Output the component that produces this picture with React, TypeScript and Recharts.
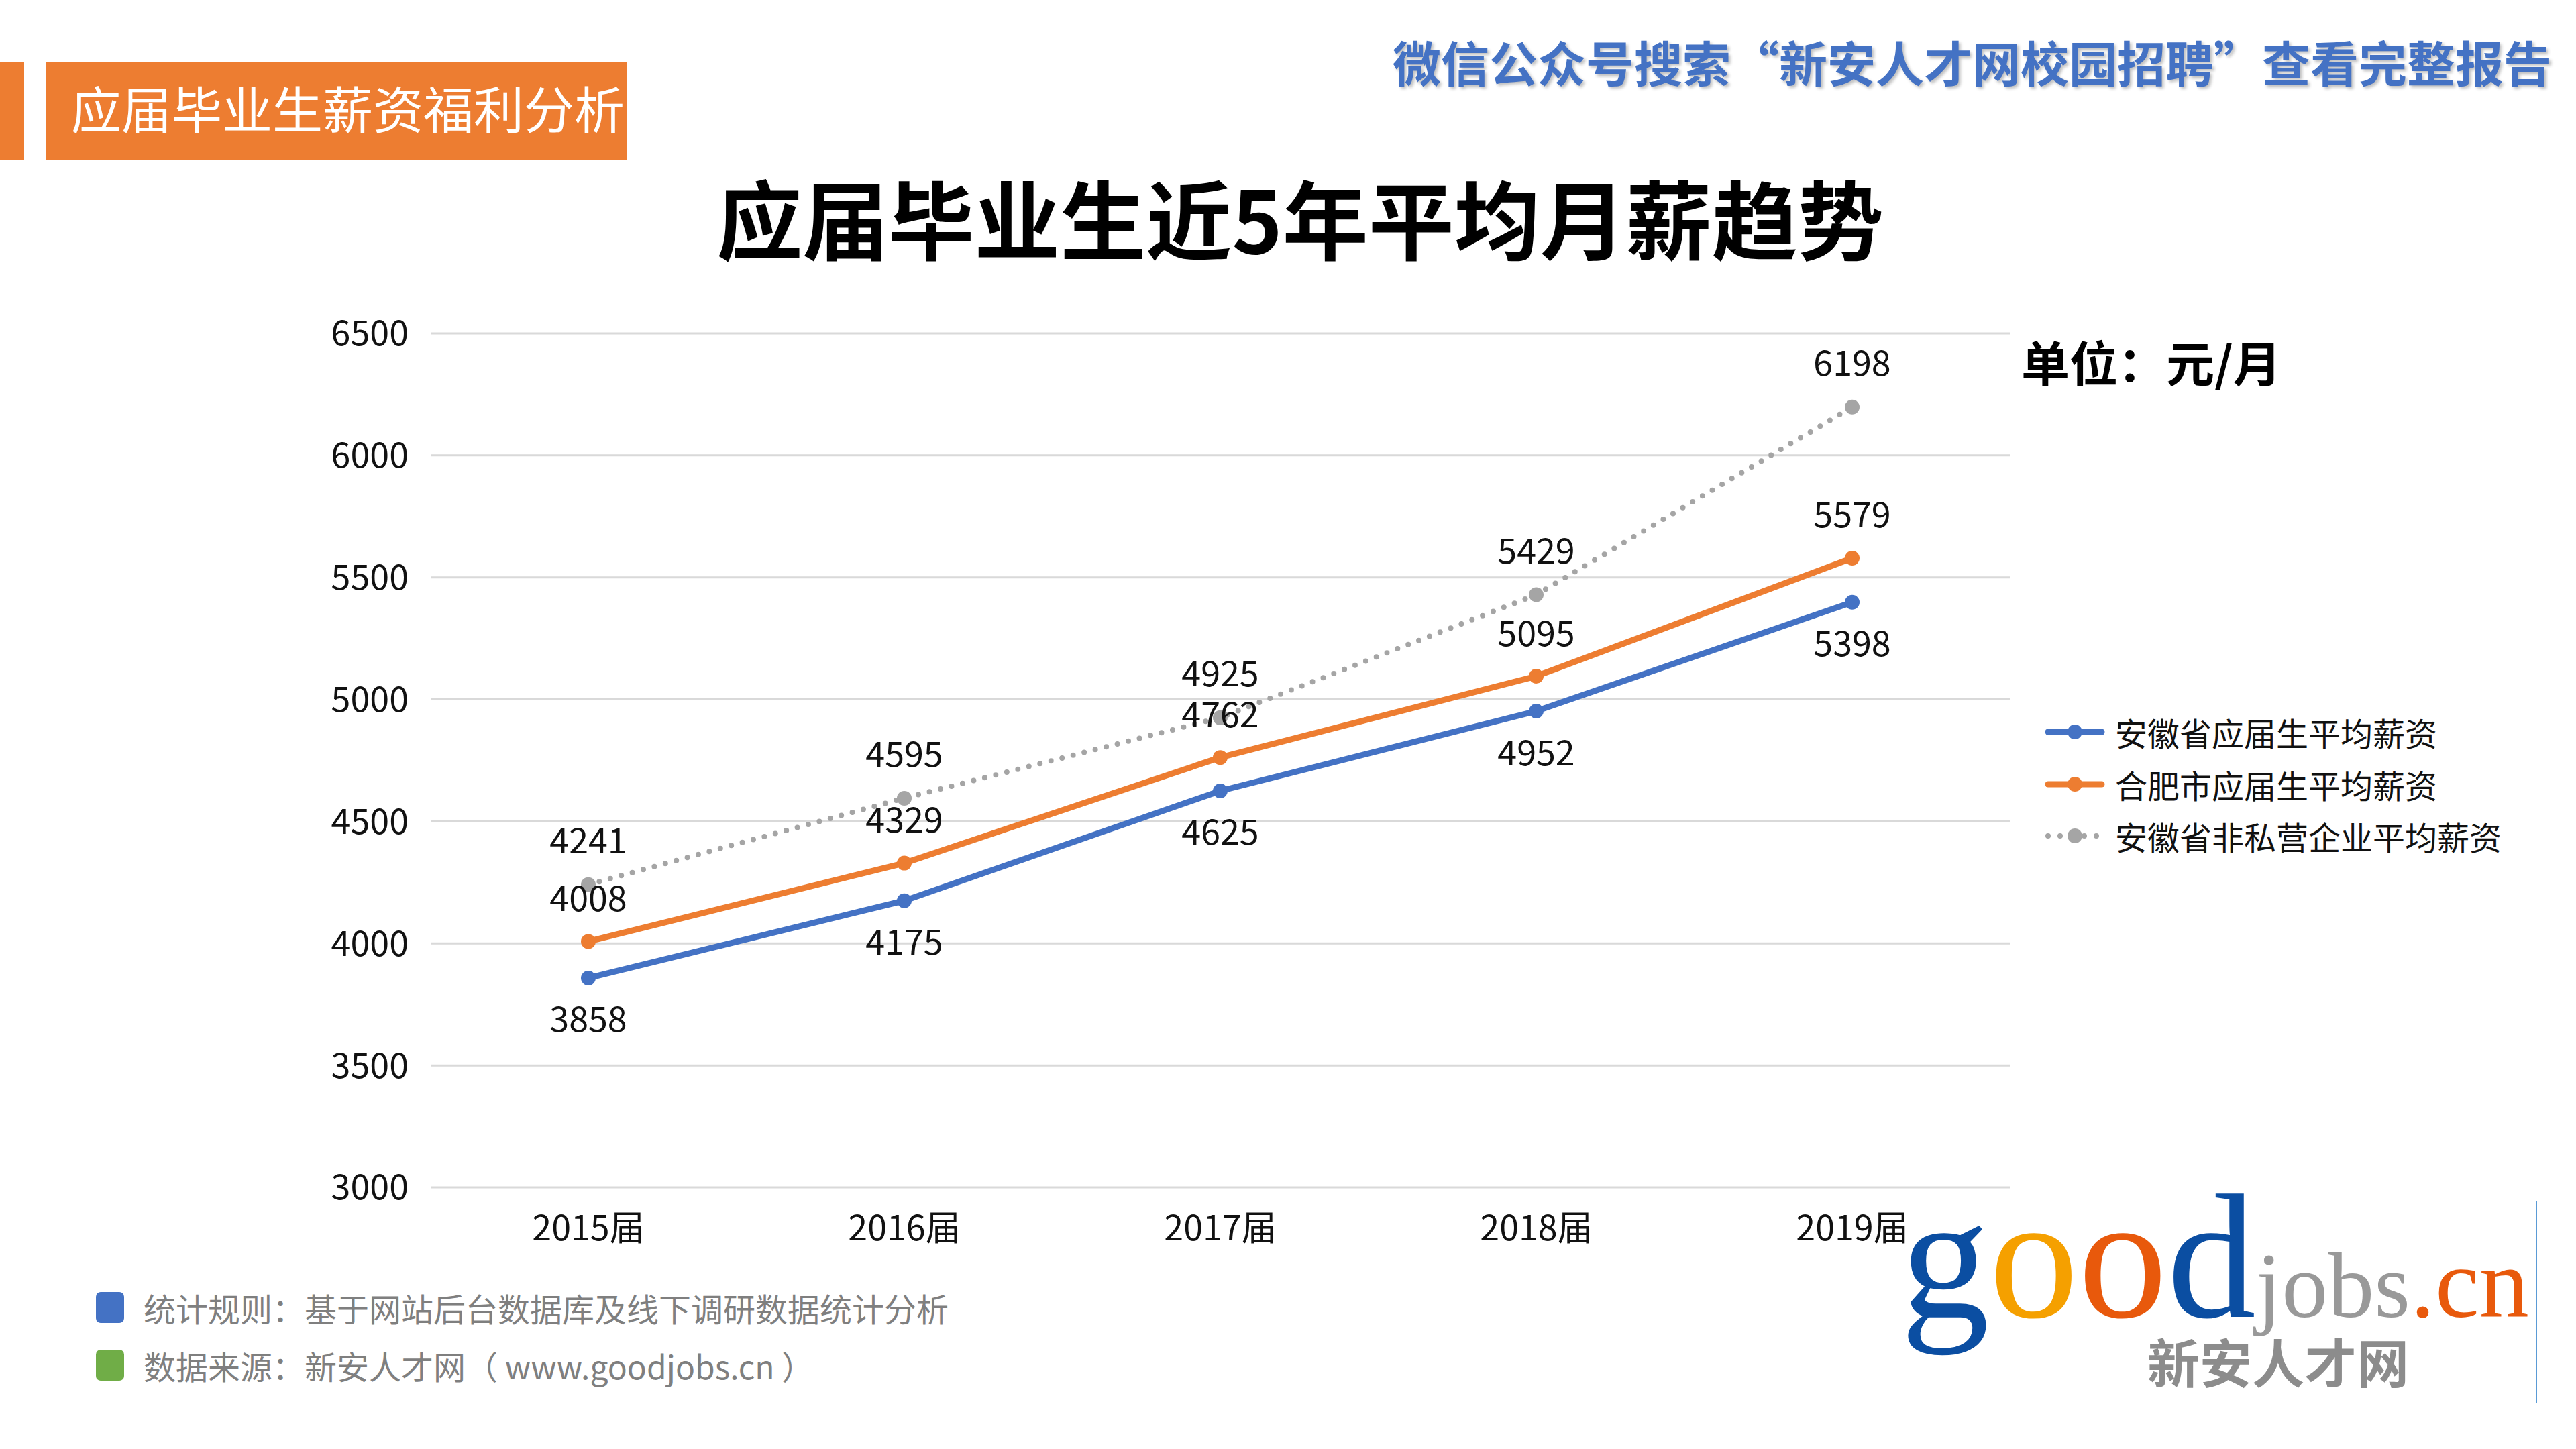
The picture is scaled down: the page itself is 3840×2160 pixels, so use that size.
import { LineChart, Line, XAxis, YAxis, CartesianGrid, LabelList } from "recharts";

const categories = ["2015届", "2016届", "2017届", "2018届", "2019届"];
const anhuiGrad = [3858, 4175, 4625, 4952, 5398];
const hefeiGrad = [4008, 4329, 4762, 5095, 5579];
const anhuiNonPrivate = [4241, 4595, 4925, 5429, 6198];
const yTicks = [3000, 3500, 4000, 4500, 5000, 5500, 6000, 6500];

const seriesNames = ["安徽省应届生平均薪资", "合肥市应届生平均薪资", "安徽省非私营企业平均薪资"];
const footNotes = [
  "统计规则：基于网站后台数据库及线下调研数据统计分析",
  "数据来源：新安人才网（ www.goodjobs.cn ）",
];

const BLUE = "#4472C4";
const ORANGE = "#ED7D31";
const GRAY = "#A5A5A5";

const data = categories.map((name, i) => ({
  name,
  anhui: anhuiGrad[i],
  hefei: hefeiGrad[i],
  nonPrivate: anhuiNonPrivate[i],
}));

const FONT = '"Noto Sans CJK SC", "Noto Sans", sans-serif';

const makeLabel = (dy: number) => (props: any) => {
  const x = props.x ?? props.viewBox?.x;
  const y = props.y ?? props.viewBox?.y;
  return (
    <text
      x={x}
      y={y + dy}
      textAnchor="middle"
      dominantBaseline="central"
      fontSize={52}
      fill="#111"
      fontFamily={FONT}
    >
      {props.value}
    </text>
  );
};

function LegendIcon({ color, dotted }: { color: string; dotted?: boolean }) {
  return (
    <svg width={90} height={30} style={{ display: "block" }}>
      <line
        x1={5}
        y1={15}
        x2={85}
        y2={15}
        stroke={color}
        strokeWidth={dotted ? 8 : 9}
        strokeLinecap="round"
        strokeDasharray={dotted ? "0 18" : undefined}
      />
      <circle cx={45} cy={15} r={11} fill={color} />
    </svg>
  );
}

export default function App() {
  const legendColors = [BLUE, ORANGE, GRAY];
  const squareColors = [BLUE, "#70AD47"];
  return (
    <div
      style={{
        position: "absolute",
        left: 0,
        top: 0,
        width: 3840,
        height: 2160,
        background: "#fff",
        fontFamily: FONT,
        overflow: "hidden",
      }}
    >
      {/* header tag */}
      <div style={{ position: "absolute", left: 0, top: 93, width: 36, height: 145, background: ORANGE }} />
      <div style={{ position: "absolute", left: 69, top: 93, width: 865, height: 145, background: ORANGE }} />
      <div
        style={{
          position: "absolute",
          left: 106,
          top: 122,
          fontSize: 75,
          lineHeight: 1,
          color: "#fff",
          whiteSpace: "nowrap",
        }}
      >
        应届毕业生薪资福利分析
      </div>

      <div
        style={{
          position: "absolute",
          right: 36,
          top: 55,
          fontSize: 72,
          lineHeight: 1,
          fontWeight: 700,
          color: BLUE,
          whiteSpace: "nowrap",
          textShadow: "3px 3px 4px rgba(0,0,0,0.25)",
        }}
      >
        微信公众号搜索“新安人才网校园招聘”查看完整报告
      </div>

      <div
        style={{
          position: "absolute",
          left: 1938,
          top: 259,
          transform: "translateX(-50%)",
          fontSize: 128,
          lineHeight: 1,
          fontWeight: 700,
          color: "#000",
          whiteSpace: "nowrap",
        }}
      >
        应届毕业生近5年平均月薪趋势
      </div>

      <div
        style={{
          position: "absolute",
          left: 3013,
          top: 502,
          fontSize: 72,
          lineHeight: 1,
          fontWeight: 700,
          color: "#000",
          whiteSpace: "nowrap",
        }}
      >
        单位：元/月
      </div>

      <div style={{ position: "absolute", left: 0, top: 0 }}>
        <LineChart
          width={3840}
          height={2160}
          data={data}
          margin={{ top: 497, right: 844, bottom: 310, left: 522 }}
        >
          <CartesianGrid vertical={false} stroke="#D9D9D9" strokeWidth={3} />
          <XAxis
            dataKey="name"
            axisLine={false}
            tickLine={false}
            tickSize={0}
            tickMargin={42}
            height={80}
            padding={{ left: 235, right: 235 }}
            tick={{ fontSize: 52, fill: "#111" }}
          />
          <YAxis
            domain={[3000, 6500]}
            ticks={yTicks}
            axisLine={false}
            tickLine={false}
            tickSize={0}
            tickMargin={33}
            width={120}
            tick={{ fontSize: 52, fill: "#111" }}
          />
          <Line
            dataKey="anhui"
            stroke={BLUE}
            strokeWidth={9}
            dot={{ r: 11, fill: BLUE, stroke: BLUE, strokeWidth: 0 }}
            isAnimationActive={false}
          >
            <LabelList dataKey="anhui" content={makeLabel(58)} />
          </Line>
          <Line
            dataKey="hefei"
            stroke={ORANGE}
            strokeWidth={9}
            dot={{ r: 11, fill: ORANGE, stroke: ORANGE, strokeWidth: 0 }}
            isAnimationActive={false}
          >
            <LabelList dataKey="hefei" content={makeLabel(-68)} />
          </Line>
          <Line
            dataKey="nonPrivate"
            stroke={GRAY}
            strokeWidth={8}
            strokeDasharray="0 17"
            strokeLinecap="round"
            dot={{ r: 11, fill: GRAY, stroke: GRAY, strokeWidth: 0, strokeDasharray: "0" }}
            isAnimationActive={false}
          >
            <LabelList dataKey="nonPrivate" content={makeLabel(-69)} />
          </Line>
        </LineChart>
      </div>

      {/* legend */}
      {seriesNames.map((name, i) => (
        <div
          key={name}
          style={{
            position: "absolute",
            left: 3048,
            top: 1091 + i * 77.5 - 26,
            height: 52,
            display: "flex",
            alignItems: "center",
            whiteSpace: "nowrap",
          }}
        >
          <LegendIcon color={legendColors[i]} dotted={i === 2} />
          <span style={{ marginLeft: 15, fontSize: 48, lineHeight: 1, color: "#111" }}>{name}</span>
        </div>
      ))}

      {/* footer notes */}
      {footNotes.map((t, i) => (
        <div
          key={t}
          style={{
            position: "absolute",
            left: 143,
            top: 1949 + i * 86 - 24,
            height: 48,
            display: "flex",
            alignItems: "center",
            whiteSpace: "nowrap",
          }}
        >
          <div style={{ width: 42, height: 46, borderRadius: 7, background: squareColors[i] }} />
          <span style={{ marginLeft: 29, fontSize: 48, lineHeight: 1, color: "#7F7F7F" }}>{t}</span>
        </div>
      ))}

      {/* logo */}
      <svg
        width={1040}
        height={460}
        style={{ position: "absolute", left: 2800, top: 1700 }}
      >
        <text y={263} fontFamily='"Liberation Serif", serif' fontSize={265}>
          <tspan x={33} fill="#0B4EA2">g</tspan>
          <tspan fill="#F5A000">o</tspan>
          <tspan fill="#E8590C">o</tspan>
          <tspan fill="#0B4EA2">d</tspan>
          <tspan fill="#999" fontSize={138}>jobs</tspan>
          <tspan fill="#E8590C" fontSize={148}>.cn</tspan>
        </text>
        <text x={401} y={362} fontSize={78} fontWeight={700} fill="#8C8C8C" fontFamily={FONT}>
          新安人才网
        </text>
        <line x1={981} y1={90} x2={981} y2={392} stroke="#5B9BD5" strokeWidth={2} />
      </svg>
    </div>
  );
}
